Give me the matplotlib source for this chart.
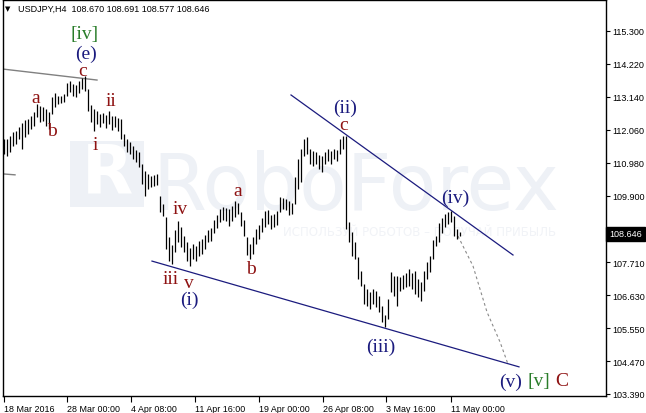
import matplotlib
matplotlib.use("Agg")
import matplotlib.pyplot as plt
from matplotlib.patches import Rectangle

# ---------------- data (USDJPY H4) ----------------
high = [111.76, 111.76, 111.85, 111.98, 112.02, 112.15, 112.28, 112.38, 112.41, 112.51,
        112.64, 112.90, 112.84, 112.81, 112.74, 112.64, 113.13, 113.27, 113.17, 113.17,
        113.23, 113.59, 113.66, 113.56, 113.53, 113.66, 113.76, 113.82, 113.40, 112.87,
        112.74, 112.67, 112.58, 112.61, 112.54, 112.67, 112.51, 112.51, 112.44, 112.41,
        111.92, 111.76, 111.66, 111.53, 111.39, 111.33, 110.93, 110.71, 110.61, 110.54,
        110.57, 110.61, 109.89, 109.62, 109.20, 108.54, 108.28, 108.77, 109.07, 108.87,
        108.57, 108.38, 108.18, 108.31, 108.25, 108.41, 108.48, 108.61, 108.77, 108.84,
        109.10, 109.26, 109.46, 109.53, 109.49, 109.46, 109.56, 109.72, 109.66, 109.36,
        109.10, 108.54, 108.31, 108.54, 108.80, 108.93, 109.16, 109.39, 109.43, 109.26,
        109.30, 109.39, 109.85, 109.82, 109.79, 109.72, 109.66, 110.51, 111.10, 111.43,
        111.76, 111.82, 111.43, 111.36, 111.33, 111.23, 111.20, 111.33, 111.43, 111.36,
        111.43, 111.39, 111.76, 111.85, 111.85, 109.03, 108.71, 108.38, 107.88, 107.43,
        107.00, 106.83, 106.74, 106.83, 106.77, 106.61, 106.28, 105.98, 106.51, 107.39,
        107.26, 107.26, 107.23, 107.30, 107.36, 107.49, 107.36, 107.43, 107.16, 107.06,
        107.43, 107.72, 107.92, 108.44, 108.57, 109.00, 109.16, 109.30, 109.36, 109.39,
        109.23, 108.80, 108.69]
low = [111.26, 111.20, 111.33, 111.53, 111.59, 111.76, 111.43, 111.82, 111.92, 112.08,
       112.18, 112.48, 112.31, 112.35, 112.18, 112.08, 112.58, 112.81, 112.90, 112.94,
       112.97, 113.17, 113.30, 113.17, 113.13, 113.27, 113.40, 113.33, 112.67, 112.31,
       112.02, 112.25, 112.15, 112.28, 112.12, 112.25, 112.05, 112.15, 112.02, 111.76,
       111.53, 111.33, 111.26, 111.10, 111.00, 110.84, 110.28, 109.89, 110.12, 110.18,
       110.21, 110.25, 109.36, 109.23, 108.15, 107.75, 107.65, 108.05, 108.38, 108.21,
       108.05, 107.75, 107.59, 107.82, 107.75, 107.92, 107.98, 108.15, 108.38, 108.41,
       108.67, 108.84, 109.03, 109.10, 109.07, 108.90, 109.07, 109.20, 109.30, 108.90,
       108.57, 107.95, 107.82, 107.98, 108.31, 108.48, 108.71, 108.87, 108.97, 108.80,
       108.87, 108.93, 109.36, 109.46, 109.43, 109.26, 109.30, 109.62, 110.12, 110.35,
       111.20, 111.26, 110.93, 110.87, 110.93, 110.77, 110.67, 110.93, 111.03, 110.93,
       111.10, 111.03, 111.26, 111.43, 108.80, 108.38, 107.92, 107.82, 107.16, 106.93,
       106.34, 106.28, 106.18, 106.34, 106.24, 106.08, 105.75, 105.59, 105.85, 106.74,
       106.61, 106.28, 106.77, 106.83, 106.90, 106.93, 106.83, 106.67, 106.57, 106.44,
       106.77, 107.16, 107.39, 107.82, 108.25, 108.38, 108.67, 108.87, 108.97, 109.03,
       108.57, 108.48, 108.58]
last_ohlc = ["108.670", "108.691", "108.577", "108.646"]
last_price = 108.646

ytick_values = [115.300, 114.220, 113.140, 112.060, 110.980, 109.900, 108.790,
                107.710, 106.630, 105.550, 104.470, 103.390]
xtick_bars = [0.0, 20.9, 42.3, 63.8, 85.0, 106.3, 127.5, 148.9]
xtick_labels = ["18 Mar 2016", "28 Mar 00:00", "4 Apr 08:00", "11 Apr 16:00",
                "19 Apr 00:00", "26 Apr 08:00", "3 May 16:00", "11 May 00:00"]

# trend / channel lines (bar index, price)
grey_line1_x, grey_line1_y = [-0.33, 31.0], [114.05, 113.69]
grey_line2_x, grey_line2_y = [-0.33, 3.67], [110.61, 110.58]
lower_line_x, lower_line_y = [49.33, 171.67], [107.75, 104.28]
upper_line_x, upper_line_y = [95.67, 169.67], [113.20, 107.95]
path_x = [151.33, 156.33, 161.0, 165.33, 168.0]
path_y = [108.57, 107.59, 106.08, 105.10, 104.37]

# wave labels: text, x pixel, y pixel, colour key
RED, NAVY, GREEN = "#8e1212", "#1b1b7e", "#2a7d2a"
wave_labels = [
    ("[iv]", 85, 34, GREEN), ("(e)", 86, 54, NAVY), ("c", 83, 71, RED),
    ("a", 36, 99, RED), ("b", 52, 131, RED), ("ii", 111, 102, RED),
    ("i", 95, 145, RED), ("iv", 180, 210, RED), ("iii", 171, 279, RED),
    ("v", 189, 283, RED), ("(i)", 189, 300, NAVY), ("a", 238, 191, RED),
    ("b", 251, 270, RED), ("(ii)", 345, 108, NAVY), ("c", 344, 125, RED),
    ("(iii)", 381, 347, NAVY), ("(iv)", 455, 198, NAVY), ("(v)", 511, 382, NAVY),
    ("[v]", 539, 382, GREEN), ("C", 562, 382, RED),
]

# ---------------- figure ----------------
W, H = 646, 414
fig = plt.figure(figsize=(W / 100, H / 100), dpi=100)
fig.patch.set_facecolor("white")
ax = fig.add_axes([3 / W, 17 / H, 603 / W, 396 / H])
ax.set_xlim(-0.333, 200.67)
ax.set_ylim(103.324, 116.316)

def fp(x, y):
    return (x / W, 1 - y / H)

# watermark (inside the axes, below the bars)
wm = "#eef1f6"
ax.add_patch(Rectangle(fp(70, 208), 74 / W, 66 / H, transform=fig.transFigure,
                       facecolor=wm, edgecolor="none", zorder=0.2, clip_on=False))
ax.text(*fp(107, 175), "R", transform=fig.transFigure, color="white", fontsize=48,
        fontweight="bold", ha="center", va="center", family="DejaVu Sans", zorder=0.3)
ax.text(*fp(152, 210), "RoboForex", transform=fig.transFigure, color=wm, fontsize=56,
        family="DejaVu Sans", ha="left", va="baseline", zorder=0.2)
ax.text(*fp(420, 232), "ИСПОЛЬЗУЙ РОБОТОВ – ПОЛУЧАЙ ПРИБЫЛЬ", transform=fig.transFigure,
        color="#f1f3f7", fontsize=8.5, family="DejaVu Sans", ha="center", va="center",
        zorder=0.2)

# bars
xs = list(range(len(high)))
ax.vlines(xs, low, high, color="black", linewidth=0.9, zorder=3)

# lines
ax.plot(grey_line1_x, grey_line1_y, color="#808080", lw=1.0, zorder=2)
ax.plot(grey_line2_x, grey_line2_y, color="#808080", lw=1.0, zorder=2)
ax.plot(lower_line_x, lower_line_y, color="#1b1b7e", lw=0.9, zorder=2)
ax.plot(upper_line_x, upper_line_y, color="#1b1b7e", lw=0.9, zorder=2)
ax.plot(path_x, path_y, color="#8a8a8a", lw=0.8, ls=(0, (2.5, 2.5)), zorder=2)

# wave labels
for txt, px, py, col in wave_labels:
    fig.text(*fp(px, py), txt, color=col, fontsize=14, family="Liberation Serif",
             ha="center", va="center", zorder=5)

# header
fig.text(*fp(5, 9), "\u25BC", fontsize=5, ha="left", va="center", color="black")
fig.text(*fp(18, 9), "USDJPY,H4  " + " ".join(last_ohlc), fontsize=6.5,
         family="Liberation Sans", ha="left", va="center", color="black")

# axes styling
for s in ax.spines.values():
    s.set_linewidth(1.0)
    s.set_color("black")
ax.yaxis.tick_right()
ax.set_yticks(ytick_values)
ax.set_yticklabels([f"{v:.3f}" for v in ytick_values])
ax.tick_params(axis="y", direction="out", length=3, width=0.8, pad=1.5,
               labelsize=6.5, colors="black")
ax.set_xticks(xtick_bars)
ax.set_xticklabels(xtick_labels, ha="left")
ax.tick_params(axis="x", direction="out", length=4, width=0.8, pad=1.5, labelsize=6.4)
for lab in ax.get_xticklabels() + ax.get_yticklabels():
    lab.set_family("Liberation Sans")

# current price box
ax.annotate(f"{last_price:.3f}", xy=(1.0, last_price), xycoords=("axes fraction", "data"),
            xytext=(2.2, 0), textcoords="offset points", ha="left", va="center",
            fontsize=6.5, family="Liberation Sans", color="white",
            bbox=dict(boxstyle="square,pad=0.3", fc="black", ec="black"), zorder=10,
            annotation_clip=False)

fig.savefig("out.png", dpi=100)
